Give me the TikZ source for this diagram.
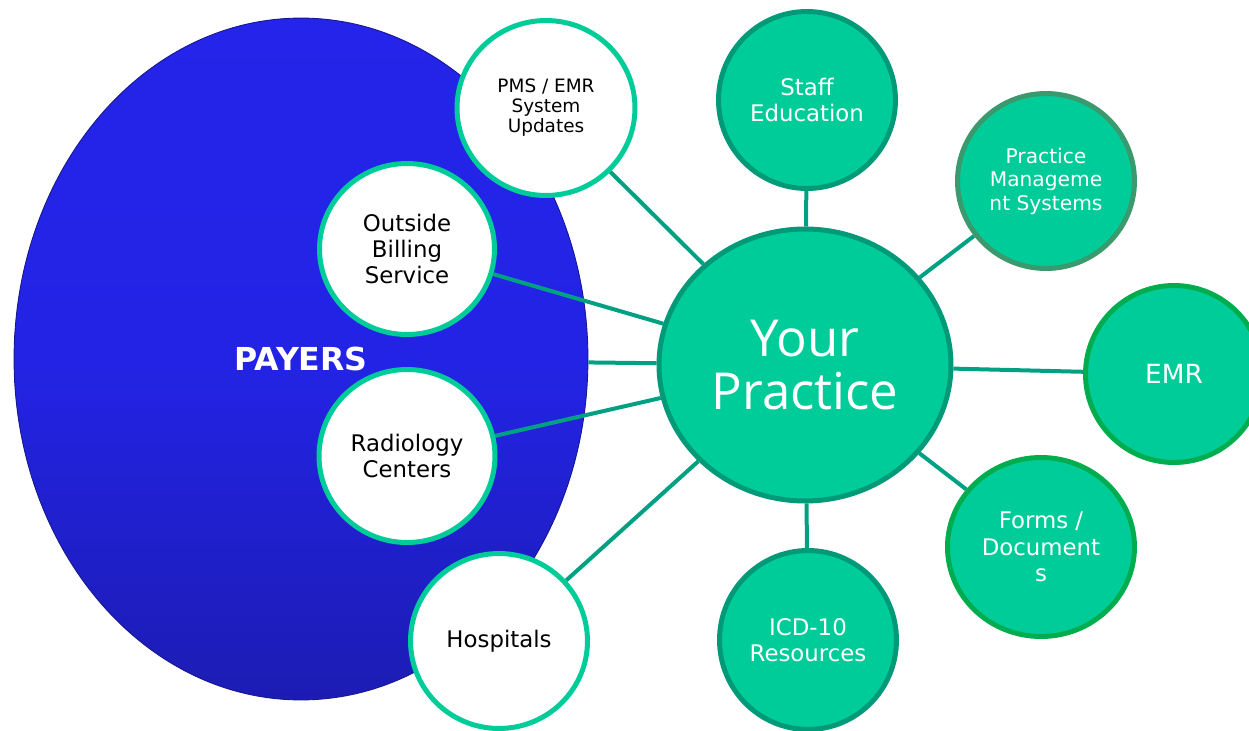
\documentclass[tikz,border=0pt]{standalone}
\usepackage{fontspec}
\setmainfont{DejaVu Sans}
\newfontfamily\hubfont{Open Sans}
\usetikzlibrary{shapes.geometric}
\definecolor{jade}{HTML}{00CC99}
\definecolor{jadedark}{HTML}{009A78}
\definecolor{jadeline}{HTML}{00A182}
\definecolor{sage}{HTML}{3A9A6E}
\definecolor{leaf}{HTML}{00AD4E}
\definecolor{payblue}{HTML}{2424EA}
\definecolor{payblued}{HTML}{1C1CB4}
\pgfdeclarelayer{front}
\pgfsetlayers{main,front}

\begin{document}
\begin{tikzpicture}[x=0.02cm, y=-0.02cm,
  circ/.style = {ellipse, inner sep = 0pt, line width = 0.1cm, align = center},
  sz/.style 2 args = {minimum width = #1, minimum height = #2},
  grn/.style = {circ, fill = jade, draw = jadedark, text = white, font = \fontsize{13}{15}\selectfont},
  wht/.style = {circ, fill = white, draw = jade, text = black, font = \fontsize{13}{15}\selectfont},
  link/.style = {draw = jadeline, line width = 0.08cm}]
\useasboundingbox (0,0) rectangle (1249,731);
% payers
\node[ellipse, sz = {11.48cm}{13.64cm}, top color = payblue, bottom color = payblued,
  middle color = payblue!92!payblued,
  draw = payblued!80!black, line width = 0.5pt, text = white,
  font = \fontsize{18}{20}\selectfont\bfseries] (P) at (301,359) {PAYERS};
\begin{pgfonlayer}{front}
\node[grn, draw = jadedark, sz = {5.84cm}{5.44cm}, font = \hubfont\fontsize{29}{30}\selectfont] (YP) at (805,365) {Your\\Practice};
\node[grn, sz = {3.54cm}{3.54cm}] (staff) at (807,100) {Staff\\Education};
\node[grn, draw = sage, sz = {3.54cm}{3.5cm}, font = \fontsize{11.5}{13.4}\selectfont] (pms) at (1046,181) {Practice\\Manageme\\nt Systems};
\node[grn, draw = leaf, sz = {3.54cm}{3.54cm}, font = \fontsize{15}{17}\selectfont] (emr) at (1174,374) {EMR};
\node[grn, draw = leaf, sz = {3.74cm}{3.58cm}] (forms) at (1041,547) {Forms /\\Document\\s};
\node[grn, sz = {3.54cm}{3.58cm}] (icd) at (808,640) {ICD-10\\Resources};
\node[wht, sz = {3.56cm}{3.5cm}, font = \fontsize{10.5}{11.4}\selectfont] (upd) at (546,108) {PMS / EMR\\System\\Updates};
\node[wht, sz = {3.5cm}{3.42cm}] (obs) at (407,249) {Outside\\Billing\\Service};
\node[wht, sz = {3.52cm}{3.46cm}] (rad) at (407,456) {Radiology\\Centers};
\node[wht, sz = {3.54cm}{3.5cm}] (hosp) at (499,641) {Hospitals};
\end{pgfonlayer}
\foreach \i/\j in {P/YP, upd/YP, obs/YP, rad/YP, hosp/YP,
  staff/YP, pms/YP, emr/YP, forms/YP, icd/YP}{
\draw[link] (\i) -- (\j);
}
\end{tikzpicture}
\end{document}
